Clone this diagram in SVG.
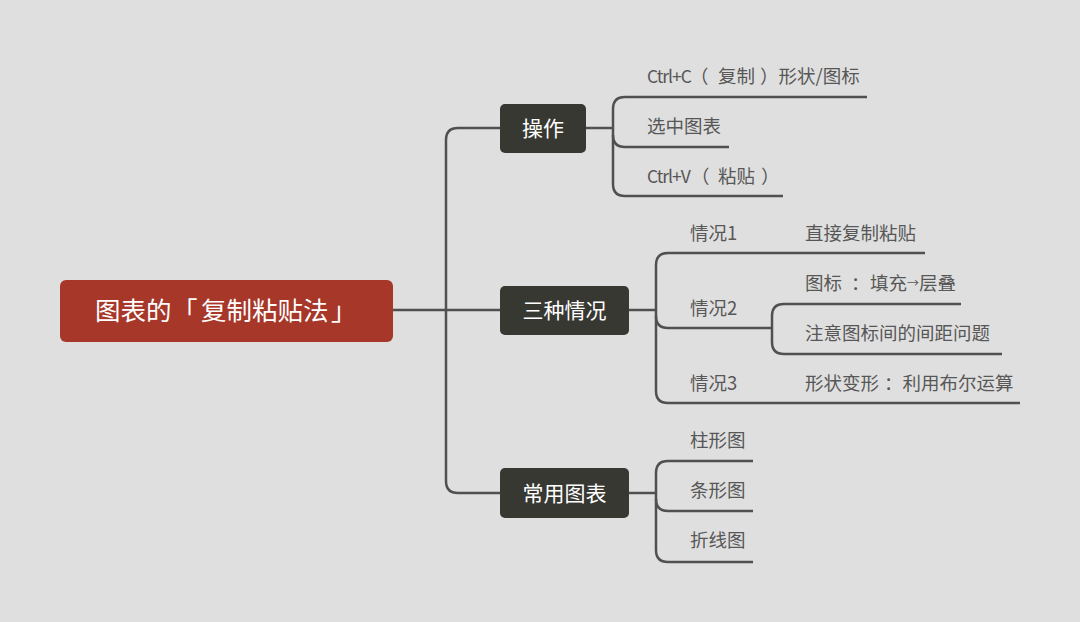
<svg xmlns="http://www.w3.org/2000/svg" width="1080" height="622" viewBox="0 0 1080 622">
<style>
.bg{fill:#dfdfdf}
.root{fill:#a63729}
.topic{fill:#383832}
.rt{fill:#ffffff;font-family:"Noto Sans CJK SC","Noto Sans",sans-serif;font-size:25.5px}
.tt{fill:#ffffff;font-family:"Noto Sans CJK SC","Noto Sans",sans-serif;font-size:21px;text-anchor:middle}
.ct{fill:#575757;font-family:"Noto Sans CJK SC","Noto Sans",sans-serif;font-size:18.5px}
.lat{letter-spacing:-1px;font-size:17.5px}
.arr{font-size:12px}
.ln{fill:none;stroke:#505050;stroke-width:2.5}
</style>
<rect class="bg" x="0" y="0" width="1080" height="622"/>
<g id="connectors">
<path class="ln" d="M393 310H446"/>
<path class="ln" d="M500 128H458Q446 128 446 140V481Q446 493 458 493H500"/>
<path class="ln" d="M446 310H500"/>
<path class="ln" d="M586 128H613"/>
<path class="ln" d="M867 97H625Q613 97 613 109V184Q613 196 625 196H783"/>
<path class="ln" d="M613 135Q613 147 625 147H729"/>
<path class="ln" d="M629 310H656"/>
<path class="ln" d="M925 253H668Q656 253 656 265V391Q656 403 668 403H1020"/>
<path class="ln" d="M656 316Q656 328 668 328H772"/>
<path class="ln" d="M961 304H784Q772 304 772 316V342Q772 354 784 354H1002"/>
<path class="ln" d="M629 493H656"/>
<path class="ln" d="M753 461H668Q656 461 656 473V550Q656 562 668 562H753"/>
<path class="ln" d="M656 499Q656 511 668 511H753"/>
</g>
<g id="root">
<rect class="root" x="60" y="280" width="333" height="62" rx="6"/>
<text class="rt" y="319.5"><tspan x="95">图表的</tspan><tspan x="172">「</tspan><tspan x="201">复制粘贴法</tspan><tspan x="331">」</tspan></text>
</g>
<g id="topic-caozuo">
<rect class="topic" x="500" y="104" width="86" height="49" rx="5"/>
<text class="tt" x="543" y="136">操作</text>
</g>
<g id="topic-sanzhong">
<rect class="topic" x="500" y="286" width="129" height="49" rx="5"/>
<text class="tt" x="564.5" y="318">三种情况</text>
</g>
<g id="topic-changyong">
<rect class="topic" x="500" y="468" width="129" height="50" rx="5"/>
<text class="tt" x="564.5" y="501">常用图表</text>
</g>
<g id="c1"><text class="ct" y="83"><tspan class="lat" x="647">Ctrl+C</tspan><tspan x="690">（</tspan><tspan x="718">复制</tspan><tspan x="760">）</tspan><tspan x="778.5">形状/图标</tspan></text></g>
<g id="c2"><text class="ct" x="647" y="133">选中图表</text></g>
<g id="c3"><text class="ct" y="183"><tspan class="lat" x="647">Ctrl+V</tspan><tspan x="691">（</tspan><tspan x="718">粘贴</tspan><tspan x="761">）</tspan></text></g>
<g id="q1"><text class="ct" x="690" y="240">情况1</text></g>
<g id="q1a"><text class="ct" x="805" y="240">直接复制粘贴</text></g>
<g id="q2"><text class="ct" x="690" y="315">情况2</text></g>
<g id="q2a"><text class="ct" y="290"><tspan x="805">图标</tspan><tspan x="851">：</tspan><tspan x="870">填充</tspan><tspan class="arr" x="907" dy="-2">→</tspan><tspan x="919" dy="2">层叠</tspan></text></g>
<g id="q2b"><text class="ct" x="805" y="340">注意图标间的间距问题</text></g>
<g id="q3"><text class="ct" x="690" y="390">情况3</text></g>
<g id="q3a"><text class="ct" y="390"><tspan x="805">形状变形</tspan><tspan x="884">：</tspan><tspan x="902.5">利用布尔运算</tspan></text></g>
<g id="t1"><text class="ct" x="690" y="447">柱形图</text></g>
<g id="t2"><text class="ct" x="690" y="497">条形图</text></g>
<g id="t3"><text class="ct" x="690" y="547">折线图</text></g>
</svg>
